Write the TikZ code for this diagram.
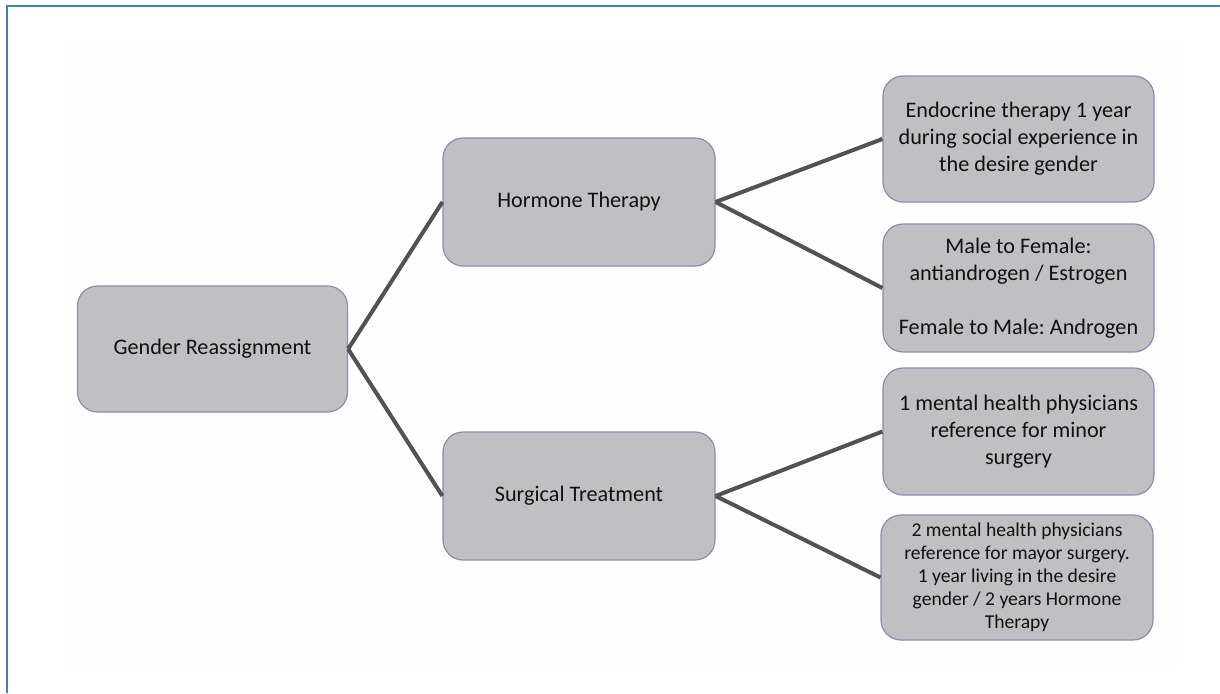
\documentclass[tikz,border=0pt]{standalone}
\usepackage{fontspec}
\setmainfont{Carlito}
\frenchspacing
\begin{document}
\begin{tikzpicture}[x=1pt,y=-1pt,
  box/.style={draw=boxline, line width=1.2pt, fill=boxfill, rounded corners=20pt,
    align=center, inner sep=0pt, text=textcol, font=\fontsize{22.2}{27}\selectfont},
  link/.style={draw=linkcol, line width=4pt}]
\definecolor{boxfill}{HTML}{C0C0C2}
\definecolor{boxline}{HTML}{8590AC}
\definecolor{textcol}{HTML}{111111}
\definecolor{linkcol}{HTML}{525252}
\definecolor{frameblue}{HTML}{3D7FCB}
\definecolor{paper}{HTML}{FEFEFE}
\useasboundingbox (0,0) rectangle (1220,693);
\fill[white] (0,0) rectangle (1220,693);
\fill[paper] (63,37) rectangle (1180,668);
\draw[frameblue, line width=2pt] (7,693) -- (7,6) -- (1220,6);

\node[box, minimum width=270pt, minimum height=126pt] (G) at (212.5,349) {Gender Reassignment};
\node[box, minimum width=272pt, minimum height=128pt] (H) at (579,202) {Hormone Therapy};
\node[box, minimum width=272pt, minimum height=128pt] (S) at (579,496) {Surgical Treatment};
\node[box, minimum width=271pt, minimum height=126pt] (E) at (1018.5,139)
  {Endocrine therapy 1 year\\during social experience in\\the desire gender};
\node[box, minimum width=271pt, minimum height=128pt] (M) at (1018.5,288)
  {Male to Female:\\antiandrogen / Estrogen\\[27pt]Female to Male: Androgen};
\node[box, minimum width=271pt, minimum height=127pt] (P1) at (1018.5,431.5)
  {1 mental health physicians\\reference for minor\\surgery};
\node[box, minimum width=272pt, minimum height=125pt, font=\fontsize{19.6}{23}\selectfont] (P2) at (1017,577.5)
  {2 mental health physicians\\reference for mayor surgery.\\1 year living in the desire\\gender / 2 years Hormone\\Therapy};

\draw[link] (G.east) -- (H.west);
\draw[link] (G.east) -- (S.west);
\draw[link] (H.east) -- (E.west);
\draw[link] (H.east) -- (M.west);
\draw[link] (S.east) -- (P1.west);
\draw[link] (S.east) -- (P2.west);
\end{tikzpicture}
\end{document}
